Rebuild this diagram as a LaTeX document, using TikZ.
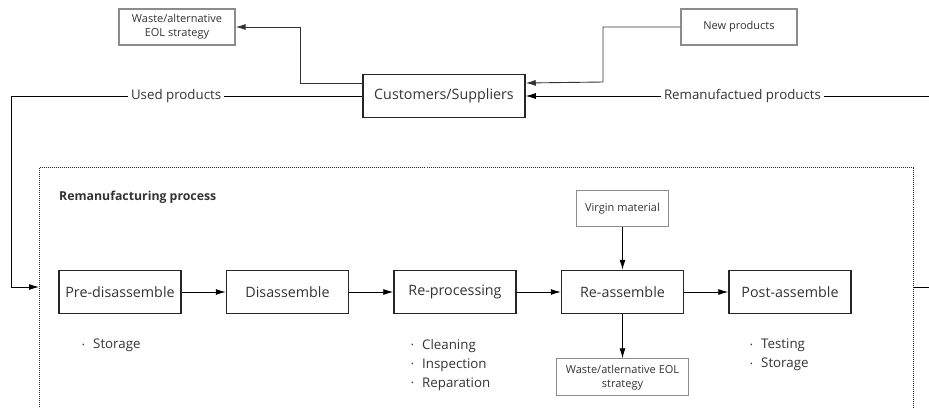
\documentclass[tikz,border=0pt]{standalone}
\usepackage{fontspec}
\setmainfont{Open Sans}
\usetikzlibrary{arrows.meta,positioning}
\definecolor{txt}{HTML}{333333}
\definecolor{rim}{HTML}{8C8C8C}
\newcommand\bitem{\makebox[11pt][l]{\raisebox{1.5pt}{\fontsize{7}{7}\selectfont\textbullet}}}
\tikzset{
  stage/.style={draw=black!85, line width=1.5pt, minimum width=122pt, minimum height=43pt,
    inner sep=2pt, font=\fontsize{14.3}{16}\selectfont, text=txt},
  side/.style={draw=rim, line width=1.2pt, align=center, inner sep=2pt,
    font=\fontsize{11}{14}\selectfont, text=txt},
  flow/.style={line width=0.9pt, -{Latex[length=10pt,width=6pt]}},
  feed/.style={flow, draw=black!80},
  tag/.style={fill=white, inner sep=3pt, font=\fontsize{13.3}{15}\selectfont, text=txt},
  bul/.style={align=left, anchor=north west, inner sep=0pt, font=\fontsize{13.3}{19}\selectfont, text=txt},
  frame/.style={draw=black!85, line width=1pt, densely dotted, anchor=north west, inner sep=0pt},
}
\begin{document}
\begin{tikzpicture}[x=1pt, y=-1pt, node distance=44pt]
\useasboundingbox (0,0) rectangle (929,407);
\clip (0,0) rectangle (929,407);
% customers and the boxes round them
\node[stage, minimum width=162pt] (cust) at (444,96) {Customers/Suppliers};
\node[side, minimum width=116pt, minimum height=36pt] (waste) at (177,27) {Waste/alternative\\EOL strategy};
\node[side, minimum width=116pt, minimum height=36pt] (newp) at (739,27) {New products};
% remanufacturing process
\node[frame, minimum width=874pt, minimum height=270pt] (proc) at (39,167) {};
\node[anchor=west, inner sep=0pt, font=\fontsize{12.3}{14}\selectfont\bfseries, text=txt] (title) at (59,197) {Remanufacturing process};
\node[stage] (pre) at (120,292) {Pre-disassemble};
\node[stage, right=of pre] (dis) {Disassemble};
\node[stage, right=of dis] (repro) {Re-processing};
\node[stage, right=of repro] (reasm) {Re-assemble};
\node[stage, right=of reasm] (post) {Post-assemble};
\node[side, minimum width=92pt, minimum height=36pt, above=43pt of reasm] (virgin) {Virgin material};
\node[side, minimum width=132pt, minimum height=37pt, below=44pt of reasm] (wastetwo) {Waste/atlernative EOL\\strategy};
% bullet lists
\node[bul] (prelist) at (82,339) {\bitem Storage};
\node[bul] (reprolist) at (411,339) {\bitem Cleaning\\\bitem Inspection\\\bitem Reparation};
\node[bul] (postlist) at (750,339) {\bitem Testing\\\bitem Storage};
% connectors
\draw[feed] ([yshift=13pt]cust.west) -| ([xshift=65pt]waste.east) -- (waste.east);
\draw[feed] (newp.west) -| (603,82) -- ([yshift=13pt]cust.east);
\draw[flow] (cust.west) -- node[tag, pos=.53] {Used products} (11,96) -- (11,287) -- (proc.west |- 0,287);
\draw[flow] (proc.east |- 0,287) -- (945,287) -- (945,96) -- node[tag, pos=.483] {Remanufactued products} (cust.east);
\foreach \a/\b in {pre/dis, dis/repro, repro/reasm, reasm/post}
  \draw[flow] (\a) -- (\b);
\draw[flow] (virgin) -- (reasm);
\draw[flow] (reasm) -- (wastetwo);
\end{tikzpicture}
\end{document}
